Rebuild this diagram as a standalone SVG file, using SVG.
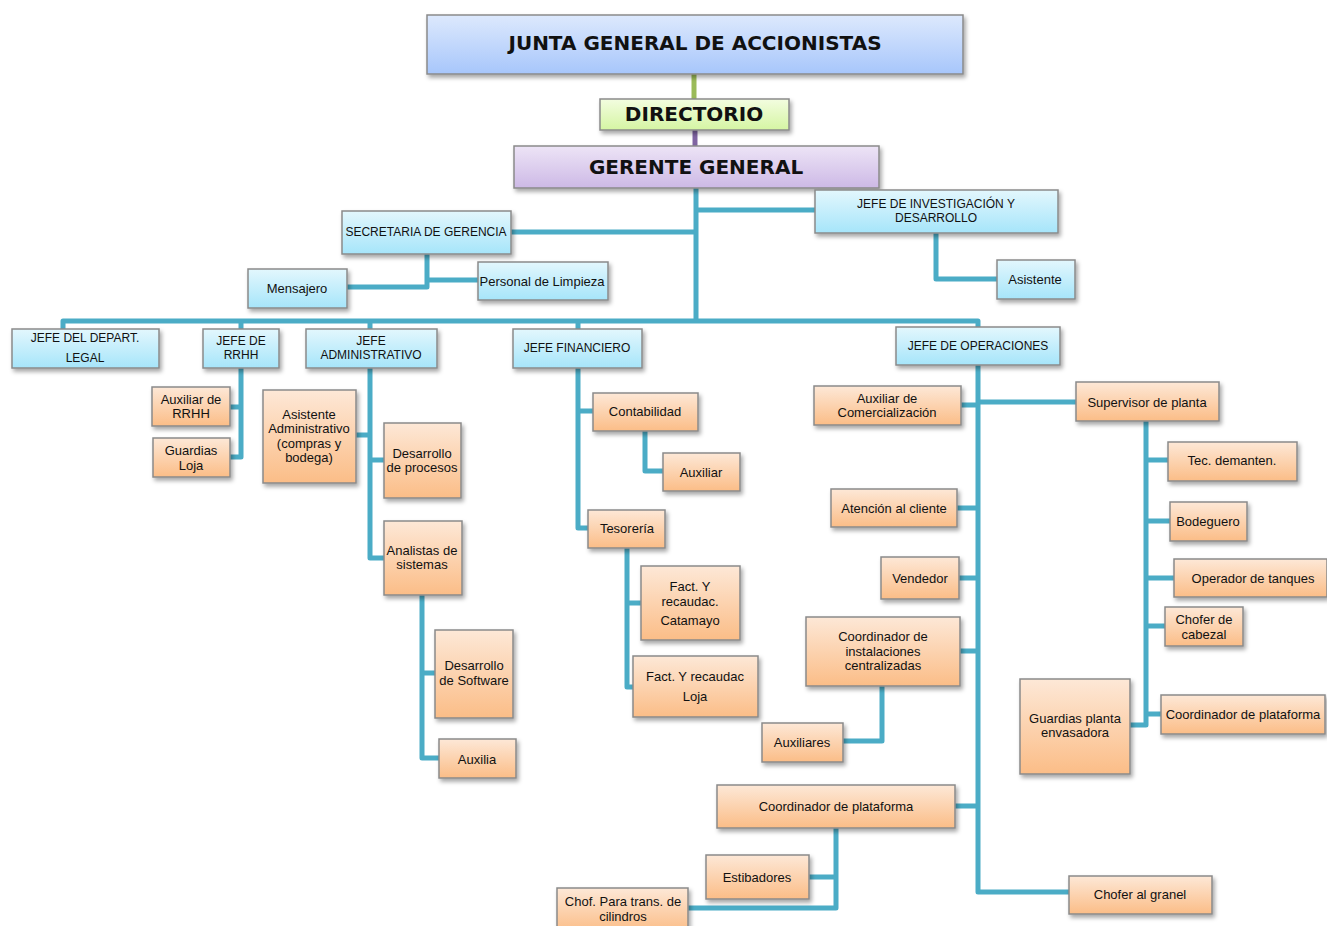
<svg xmlns="http://www.w3.org/2000/svg" width="1327" height="926" viewBox="0 0 1327 926">
<defs>
<linearGradient id="gO" x1="0" y1="0" x2="0" y2="1"><stop offset="0" stop-color="#fde8d7"/><stop offset="1" stop-color="#fbbd87"/></linearGradient>
<linearGradient id="gB" x1="0" y1="0" x2="0" y2="1"><stop offset="0" stop-color="#e3f7fd"/><stop offset="1" stop-color="#a6e5fa"/></linearGradient>
<linearGradient id="gJ" x1="0" y1="0" x2="0" y2="1"><stop offset="0" stop-color="#dde9fd"/><stop offset="1" stop-color="#a7c6fb"/></linearGradient>
<linearGradient id="gD" x1="0" y1="0" x2="0" y2="1"><stop offset="0" stop-color="#f3fde0"/><stop offset="1" stop-color="#d5f5a3"/></linearGradient>
<linearGradient id="gG" x1="0" y1="0" x2="0" y2="1"><stop offset="0" stop-color="#ede4f6"/><stop offset="1" stop-color="#cdb9e6"/></linearGradient>
<filter id="sh" x="-10%" y="-10%" width="125%" height="140%"><feDropShadow dx="2" dy="3" stdDeviation="2" flood-color="#000" flood-opacity="0.35"/></filter>
</defs>
<style>
rect{stroke:#8a8a8a;stroke-width:1.5;filter:url(#sh)}
.o{fill:url(#gO)}
.b{fill:url(#gB)}
text{font-family:"Liberation Sans",Arial,sans-serif;font-size:13px;fill:#111;text-anchor:middle;dominant-baseline:central}
.u{font-size:12px}
.h{font-family:"DejaVu Sans",Verdana,sans-serif;font-weight:bold;font-size:20px}
#conn path{fill:none;stroke:#4bacc6;stroke-width:5;stroke-linejoin:round}
</style>
<g id="conn">
<path d="M694 74V99" style="stroke:#9bbb59"/>
<path d="M695 130V146" style="stroke:#8064a2"/>
<path d="M696 188V321"/>
<path d="M696 210H815"/>
<path d="M936 233V279H997"/>
<path d="M511 232H696"/>
<path d="M427 254V287H347"/>
<path d="M427 280H478"/>
<path d="M63 329V321H978V327"/>
<path d="M241 321V329"/><path d="M370 321V329"/><path d="M578 321V329"/>
<path d="M230 407H241M241 368V457H230"/>
<path d="M356 435H370M370 368V558H384M370 460H384"/>
<path d="M422 595V758H439M422 673H435"/>
<path d="M578 368V528H588M578 411H593"/>
<path d="M645 431V471H663"/>
<path d="M627 548V687H633M627 603H641"/>
<path d="M978 365V892H1069"/>
<path d="M961 405H978M978 402H1076"/>
<path d="M957 508H978M959 578H978M960 651H978M955 806H978"/>
<path d="M882 686V741H843"/>
<path d="M836 828V908H688M809 877H836"/>
<path d="M1146 421V725H1130M1146 460H1168M1146 521H1170M1146 578H1174M1146 626H1165M1146 714H1161"/>
</g>
<g id="n-junta"><rect x="427" y="15" width="536" height="59" fill="url(#gJ)"/><text class="h" x="695" y="43">JUNTA GENERAL DE ACCIONISTAS</text></g>
<g id="n-directorio"><rect x="600" y="99" width="189" height="31" fill="url(#gD)"/><text class="h" x="694" y="114">DIRECTORIO</text></g>
<g id="n-gerente"><rect x="514" y="146" width="365" height="42" fill="url(#gG)"/><text class="h" x="696" y="167">GERENTE GENERAL</text></g>
<g id="n-jinv"><rect class="b" x="815" y="190" width="243" height="43"/><text class="u" x="936" y="204">JEFE DE INVESTIGACIÓN Y</text><text class="u" x="936" y="218">DESARROLLO</text></g>
<g id="n-asistente"><rect class="b" x="997" y="260" width="78" height="39"/><text x="1035" y="279">Asistente</text></g>
<g id="n-secretaria"><rect class="b" x="342" y="211" width="169" height="43"/><text class="u" x="426" y="232">SECRETARIA DE GERENCIA</text></g>
<g id="n-mensajero"><rect class="b" x="248" y="269" width="99" height="39"/><text x="297" y="288">Mensajero</text></g>
<g id="n-limpieza"><rect class="b" x="478" y="262" width="130" height="38"/><text x="542" y="281">Personal de Limpieza</text></g>
<g id="n-legal"><rect class="b" x="12" y="329" width="147" height="39"/><text class="u" x="85" y="338">JEFE DEL DEPART.</text><text class="u" x="85" y="358">LEGAL</text></g>
<g id="n-rrhh"><rect class="b" x="203" y="329" width="76" height="39"/><text class="u" x="241" y="341">JEFE DE</text><text class="u" x="241" y="355">RRHH</text></g>
<g id="n-admin"><rect class="b" x="306" y="329" width="131" height="39"/><text class="u" x="371" y="341">JEFE</text><text class="u" x="371" y="355">ADMINISTRATIVO</text></g>
<g id="n-fin"><rect class="b" x="513" y="329" width="129" height="39"/><text class="u" x="577" y="348">JEFE FINANCIERO</text></g>
<g id="n-oper"><rect class="b" x="896" y="327" width="164" height="38"/><text class="u" x="978" y="346">JEFE DE OPERACIONES</text></g>
<g id="n-auxrrhh"><rect class="o" x="152" y="387" width="78" height="39"/><text x="191" y="399">Auxiliar de</text><text x="191" y="413">RRHH</text></g>
<g id="n-guardiasloja"><rect class="o" x="153" y="438" width="77" height="39"/><text x="191" y="450">Guardias</text><text x="191" y="465">Loja</text></g>
<g id="n-asisadm"><rect class="o" x="263" y="390" width="93" height="93"/><text x="309" y="414">Asistente</text><text x="309" y="428">Administrativo</text><text x="309" y="443">(compras y</text><text x="309" y="457">bodega)</text></g>
<g id="n-desproc"><rect class="o" x="384" y="423" width="77" height="75"/><text x="422" y="453">Desarrollo</text><text x="422" y="467">de procesos</text></g>
<g id="n-analistas"><rect class="o" x="384" y="521" width="78" height="74"/><text x="422" y="550">Analistas de</text><text x="422" y="564">sistemas</text></g>
<g id="n-dessoft"><rect class="o" x="435" y="630" width="78" height="88"/><text x="474" y="665">Desarrollo</text><text x="474" y="680">de Software</text></g>
<g id="n-auxilia"><rect class="o" x="439" y="739" width="77" height="39"/><text x="477" y="759">Auxilia</text></g>
<g id="n-contab"><rect class="o" x="593" y="393" width="105" height="38"/><text x="645" y="411">Contabilidad</text></g>
<g id="n-auxiliar"><rect class="o" x="663" y="453" width="77" height="38"/><text x="701" y="472">Auxiliar</text></g>
<g id="n-tesoreria"><rect class="o" x="588" y="510" width="77" height="38"/><text x="627" y="528">Tesorería</text></g>
<g id="n-catamayo"><rect class="o" x="641" y="566" width="99" height="74"/><text x="690" y="586">Fact. Y</text><text x="690" y="601">recaudac.</text><text x="690" y="620">Catamayo</text></g>
<g id="n-loja"><rect class="o" x="633" y="656" width="125" height="61"/><text x="695" y="676">Fact. Y recaudac</text><text x="695" y="696">Loja</text></g>
<g id="n-auxcom"><rect class="o" x="814" y="386" width="147" height="39"/><text x="887" y="398">Auxiliar de</text><text x="887" y="412">Comercialización</text></g>
<g id="n-supervisor"><rect class="o" x="1076" y="382" width="143" height="39"/><text x="1147" y="402">Supervisor de planta</text></g>
<g id="n-atencion"><rect class="o" x="831" y="489" width="126" height="38"/><text x="894" y="508">Atención al cliente</text></g>
<g id="n-vendedor"><rect class="o" x="881" y="557" width="78" height="42"/><text x="920" y="578">Vendedor</text></g>
<g id="n-coordinst"><rect class="o" x="806" y="617" width="154" height="69"/><text x="883" y="636">Coordinador de</text><text x="883" y="651">instalaciones</text><text x="883" y="665">centralizadas</text></g>
<g id="n-auxiliares"><rect class="o" x="762" y="723" width="81" height="39"/><text x="802" y="742">Auxiliares</text></g>
<g id="n-coordplat"><rect class="o" x="717" y="785" width="238" height="43"/><text x="836" y="806">Coordinador de plataforma</text></g>
<g id="n-estibadores"><rect class="o" x="706" y="855" width="103" height="44"/><text x="757" y="877">Estibadores</text></g>
<g id="n-chofcil"><rect class="o" x="557" y="888" width="131" height="44"/><text x="623" y="901">Chof. Para trans. de</text><text x="623" y="916">cilindros</text></g>
<g id="n-granel"><rect class="o" x="1069" y="876" width="143" height="38"/><text x="1140" y="894">Chofer al granel</text></g>
<g id="n-tec"><rect class="o" x="1168" y="442" width="129" height="39"/><text x="1232" y="460">Tec. demanten.</text></g>
<g id="n-bodeguero"><rect class="o" x="1170" y="502" width="77" height="39"/><text x="1208" y="521">Bodeguero</text></g>
<g id="n-operador"><rect class="o" x="1174" y="559" width="153" height="38"/><text x="1253" y="578">Operador de tanques</text></g>
<g id="n-chofcab"><rect class="o" x="1165" y="607" width="78" height="39"/><text x="1204" y="619">Chofer de</text><text x="1204" y="634">cabezal</text></g>
<g id="n-guardiasplanta"><rect class="o" x="1020" y="679" width="110" height="95"/><text x="1075" y="718">Guardias planta</text><text x="1075" y="732">envasadora</text></g>
<g id="n-coordplat2"><rect class="o" x="1161" y="695" width="164" height="39"/><text x="1243" y="714">Coordinador de plataforma</text></g>
</svg>
